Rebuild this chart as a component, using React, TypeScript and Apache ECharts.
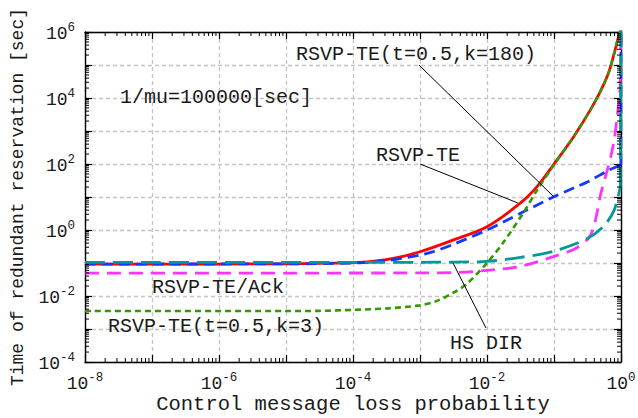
import React, { useEffect, useRef } from 'react';
import * as echarts from 'echarts';

const FONT = '"Liberation Mono", "DejaVu Sans Mono", monospace';
const TXT = '#1a1a1a';

// Axis ranges
const X_MIN = 1e-8;
const X_MAX = 1;
const Y_MIN = 1e-4;
const Y_MAX = 1e6;

// RSVP-TE (red, solid)
const redP = [1e-8, 1e-6, 1e-5, 3.16e-5, 1e-4, 3.16e-4, 1e-3, 3.16e-3, 1e-2, 3.16e-2, 5.62e-2, 0.1, 0.2, 0.4, 0.63, 0.79, 0.93, 1];
const redT = [0.093, 0.093, 0.095, 0.098, 0.102, 0.126, 0.219, 0.5, 1.26, 6.6, 21, 100, 710, 7100, 4.8e4, 2.2e5, 8e5, 1.2e6];

// RSVP-TE(t=0.5,k=180) (blue, dashed) — curve, then vertical rise at p = 1
const blueP = [1e-8, 1e-5, 1e-4, 3.16e-4, 1e-3, 1.58e-3, 3.16e-3, 1e-2, 3.16e-2, 0.1, 0.2, 0.32, 0.63, 0.995];
const blueT = [0.093, 0.094, 0.1, 0.117, 0.174, 0.22, 0.37, 1.0, 3.2, 10.2, 19, 29, 62, 95];
const blueTailP = [0.995, 1];
const blueTailT = [95, 1.2e6];

// RSVP-TE(t=0.5,k=3) (green, short dashes)
const greenP = [1e-8, 1e-5, 3.16e-5, 1e-4, 3.16e-4, 1e-3, 1.78e-3, 3.16e-3, 5e-3, 1e-2, 1.78e-2, 3.55e-2, 5.62e-2, 0.1, 0.2, 0.4, 0.63, 0.79, 0.93, 1];
const greenT = [0.0035, 0.0035, 0.00355, 0.0038, 0.0042, 0.0052, 0.0071, 0.0126, 0.0234, 0.1, 0.44, 3.5, 16.6, 95, 710, 7100, 4.8e4, 2.2e5, 8e5, 1.2e6];

// RSVP-TE/Ack (magenta, dashed)
const magentaP = [1e-8, 1e-3, 3.16e-3, 1e-2, 3.16e-2, 0.1, 0.2, 0.32, 0.38, 0.447, 0.5, 0.631, 0.708, 0.794, 0.871, 0.955, 0.9886];
const magentaT = [0.049, 0.05, 0.051, 0.06, 0.079, 0.158, 0.263, 0.537, 1.0, 3.98, 12.6, 70.8, 178, 562, 2512, 12600, 63000];
const magentaTailP = [0.9886, 1];
const magentaTailT = [63000, 1.26e6];

// HS DIR (teal, long dashes)
const tealP = [1e-8, 1e-3, 3.16e-3, 1e-2, 3.16e-2, 0.1, 0.32, 0.56, 0.79, 0.977];
const tealT = [0.105, 0.105, 0.107, 0.112, 0.148, 0.229, 0.56, 1.35, 4.0, 20];
const tealTailP = [0.977, 1];
const tealTailT = [20, 1.2e6];

// Annotation texts
const annoTexts = ['1/mu=100000[sec]', 'RSVP-TE(t=0.5,k=180)', 'RSVP-TE', 'RSVP-TE/Ack', 'RSVP-TE(t=0.5,k=3)', 'HS DIR'];

const pairs = (p: number[], t: number[]) => p.map((x, i) => [x, t[i]]);

const minorValues = (lo: number, hi: number) => {
  const out: number[] = [];
  for (let e = lo; e < hi; e++) for (let m = 2; m <= 9; m++) out.push(m * Math.pow(10, e));
  return out;
};

export default function App() {
  const ref = useRef<HTMLDivElement>(null);
  useEffect(() => {
    if (!ref.current) return;
    const chart = echarts.init(ref.current, null, { renderer: 'svg' });

    const labelFmt = (v: number) => {
      const e = Math.round(Math.log10(v));
      if (e % 2 !== 0) return '';
      return `{b|10}{s|${e}}`;
    };
    const rich = {
      b: { fontFamily: FONT, fontSize: 18, color: TXT, lineHeight: 22, verticalAlign: 'bottom' },
      s: { fontFamily: FONT, fontSize: 12.5, color: TXT, lineHeight: 22, verticalAlign: 'top' },
    };
    const axisLine = { show: true, lineStyle: { color: '#000', width: 1.4 } };
    const tick = { show: true, inside: true, length: 7, lineStyle: { color: '#000', width: 1.2 } };
    const split = { show: true, lineStyle: { color: '#c4c4c4', width: 1.3, type: [4, 3] } };

    const minorX = minorValues(-8, 0);
    const minorY = minorValues(-4, 6);

    const lineSeries = (name: string, data: number[][], color: string, type: any, width: number, smooth: boolean) => ({
      name,
      type: 'line',
      data,
      showSymbol: false,
      symbol: 'none',
      clip: true,
      silent: true,
      smooth: smooth ? 0.3 : false,
      lineStyle: { color, width, type, cap: 'butt' },
    });

    const blue = '#1438ff';
    const magenta = '#ff33ff';
    const teal = '#009999';

    chart.setOption({
      animation: false,
      backgroundColor: '#fff',
      grid: { left: 85, right: 17, top: 32, bottom: 56, containLabel: false, outerBoundsMode: 'none' },
      xAxis: [
        {
          type: 'log', logBase: 10, min: X_MIN, max: X_MAX, interval: 1, position: 'bottom',
          axisLine, axisTick: tick, splitLine: split,
          axisLabel: { formatter: labelFmt, rich, margin: 9 },
          name: 'Control message loss probability', nameLocation: 'middle', nameGap: 32, nameMoveOverlap: false,
          nameTextStyle: { fontFamily: FONT, fontSize: 20.5, color: TXT, lineHeight: 20 },
        },
        {
          type: 'log', logBase: 10, min: X_MIN, max: X_MAX, interval: 1, position: 'top',
          axisLine, axisTick: tick, splitLine: { show: false }, axisLabel: { show: false },
        },
      ],
      yAxis: [
        {
          type: 'log', logBase: 10, min: Y_MIN, max: Y_MAX, interval: 1, position: 'left',
          axisLine, axisTick: tick, splitLine: split,
          axisLabel: { formatter: labelFmt, rich, margin: 10 },
          name: 'Time of redundant reservation [sec]', nameLocation: 'middle', nameGap: 58, nameMoveOverlap: false,
          nameTextStyle: { fontFamily: FONT, fontSize: 18, color: TXT },
        },
        {
          type: 'log', logBase: 10, min: Y_MIN, max: Y_MAX, interval: 1, position: 'right',
          axisLine, axisTick: tick, splitLine: { show: false }, axisLabel: { show: false },
        },
      ],
      series: [
        {
          type: 'custom',
          silent: true,
          data: [[1e-2, 1]],
          z: 5,
          renderItem: (params: any, api: any) => {
            const cs = params.coordSys;
            const children: any[] = [];
            const st = { stroke: '#000', lineWidth: 1 };
            const L = 4;
            minorX.forEach((v) => {
              const px = api.coord([v, Y_MIN])[0];
              children.push({ type: 'line', shape: { x1: px, y1: cs.y + cs.height, x2: px, y2: cs.y + cs.height - L }, style: st });
              children.push({ type: 'line', shape: { x1: px, y1: cs.y, x2: px, y2: cs.y + L }, style: st });
            });
            minorY.forEach((v) => {
              const py = api.coord([X_MIN, v])[1];
              children.push({ type: 'line', shape: { x1: cs.x, y1: py, x2: cs.x + L, y2: py }, style: st });
              children.push({ type: 'line', shape: { x1: cs.x + cs.width, y1: py, x2: cs.x + cs.width - L, y2: py }, style: st });
            });
            return { type: 'group', children };
          },
        },
        lineSeries('RSVP-TE', pairs(redP, redT), '#ff0000', 'solid', 2.8, true),
        lineSeries('RSVP-TE(t=0.5,k=180)', pairs(blueP, blueT), blue, [11, 6], 2.8, true),
        lineSeries('RSVP-TE(t=0.5,k=180) tail', pairs(blueTailP, blueTailT), blue, [11, 6], 2.8, false),
        lineSeries('RSVP-TE(t=0.5,k=3)', pairs(greenP, greenT), '#339900', [6, 4], 2.6, true),
        lineSeries('RSVP-TE/Ack', pairs(magentaP, magentaT), magenta, [14, 8], 2.8, true),
        lineSeries('RSVP-TE/Ack tail', pairs(magentaTailP, magentaTailT), magenta, [14, 8], 2.8, false),
        lineSeries('HS DIR', pairs(tealP, tealT), teal, [20, 8], 2.8, true),
        lineSeries('HS DIR tail', pairs(tealTailP, tealTailT), teal, [20, 8], 2.8, false),
      ],
    });

    const toPx = (p: number[]) => chart.convertToPixel({ xAxisIndex: 0, yAxisIndex: 0 }, p) as number[];
    const leader = (a: number[], b: number[]) => {
      const pa = toPx(a);
      const pb = toPx(b);
      return { type: 'line', silent: true, z: 50, shape: { x1: pa[0], y1: pa[1], x2: pb[0], y2: pb[1] }, style: { stroke: '#000', lineWidth: 1 } };
    };
    const text = (t: string, x: number, y: number) => ({
      type: 'text', silent: true, z: 60, x, y,
      style: { text: t, fill: TXT, font: `20px ${FONT}`, textAlign: 'left', textVerticalAlign: 'middle', verticalAlign: 'middle' },
    });

    chart.setOption({
      graphic: [
        leader([Math.pow(10, -3.015), 1e5], [0.1, 10]),
        leader([1e-3, 100], [Math.pow(10, -1.54), Math.pow(10, 0.82)]),
        leader([Math.pow(10, -2.507), 0.1], [Math.pow(10, -2.015), Math.pow(10, -2.97)]),
        text(annoTexts[0], 120, 97),
        text(annoTexts[1], 296, 54),
        text(annoTexts[2], 376, 155),
        text(annoTexts[3], 152, 287),
        text(annoTexts[4], 108, 326),
        text(annoTexts[5], 450, 343),
      ],
    });

    return () => chart.dispose();
  }, []);
  return <div ref={ref} style={{ position: 'absolute', left: 0, top: 0, width: 638, height: 418 }} />;
}
